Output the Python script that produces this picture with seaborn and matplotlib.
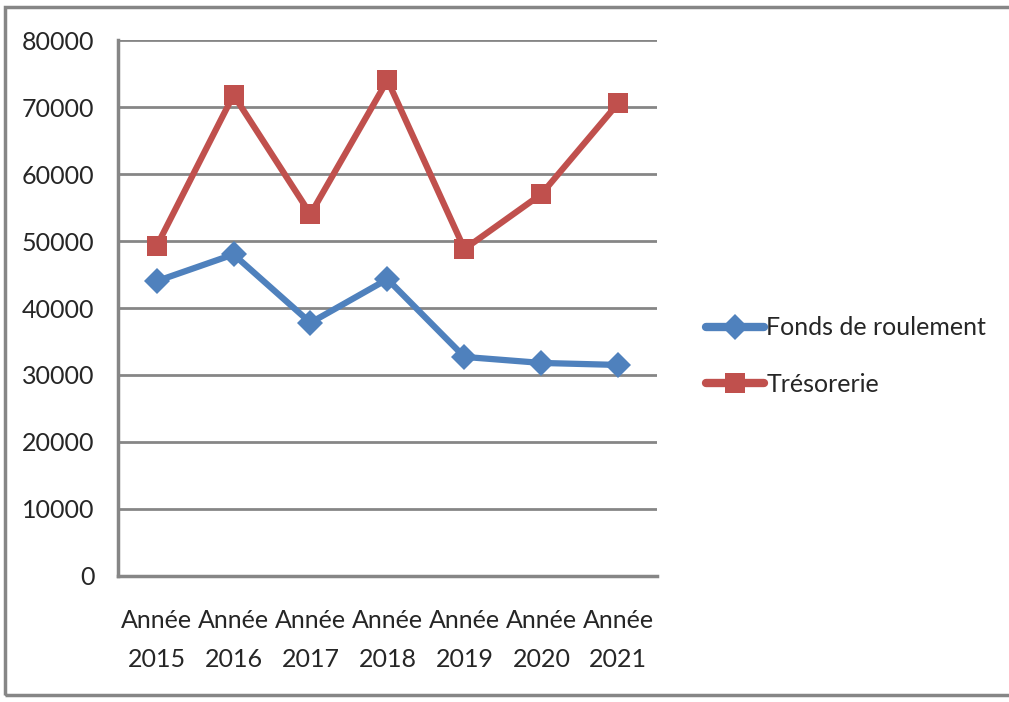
import pandas as pd
import numpy as np
import matplotlib.pyplot as plt
import seaborn as sns
from matplotlib.patches import Rectangle

# Données
annees = ["Année\n2015", "Année\n2016", "Année\n2017", "Année\n2018",
          "Année\n2019", "Année\n2020", "Année\n2021"]
fonds_roulement = [44000, 48000, 37800, 44300, 32700, 31800, 31500]
tresorerie = [49200, 71800, 54000, 74000, 48800, 57000, 70600]
y_ticks = [0, 10000, 20000, 30000, 40000, 50000, 60000, 70000, 80000]

df = pd.DataFrame({
    "annee": annees * 2,
    "valeur": fonds_roulement + tresorerie,
    "serie": ["Fonds de roulement"] * len(annees) + ["Trésorerie"] * len(annees),
})

sns.set_style("white")
plt.rcParams['font.family'] = ['Lato', 'DejaVu Sans']

fig = plt.figure(figsize=(10.09, 7.02), dpi=100)
ax = fig.add_axes([0.117, 0.1795, 0.534, 0.7635])

gris = "#868686"
palette = {"Fonds de roulement": "#4F81BD", "Trésorerie": "#C0504D"}
marqueurs = {"Fonds de roulement": "D", "Trésorerie": "s"}

sns.lineplot(data=df, x="annee", y="valeur", hue="serie", style="serie",
             palette=palette, markers=marqueurs, dashes=False, sort=False,
             linewidth=4.5, ax=ax)
for line in ax.lines:
    if line.get_marker() == "s":
        line.set_markersize(15)
    else:
        line.set_markersize(13)
    line.set_markeredgewidth(0)

ax.set_ylim(0, 80000)
ax.set_xlim(-0.5, 6.5)
ax.set_yticks(y_ticks)
ax.set_xticks(range(len(annees)))
ax.set_xticklabels(annees, fontsize=18, linespacing=1.8)
ax.set_xticks(np.arange(-0.5, 7, 1), minor=True)
ax.tick_params(axis="x", which="major", length=0, pad=24)
ax.tick_params(axis="x", which="minor", length=8, width=2, color=gris, direction="out")
ax.tick_params(axis="y", labelsize=18, length=9, width=2, color=gris, pad=8)
ax.set_xlabel("")
ax.set_ylabel("")

ax.yaxis.grid(True, color=gris, linewidth=2)
ax.set_axisbelow(True)
for s in ["top", "right"]:
    ax.spines[s].set_visible(False)
for s in ["left", "bottom"]:
    ax.spines[s].set_color(gris)
    ax.spines[s].set_linewidth(2.5)

leg = ax.legend(loc="center left", bbox_to_anchor=(1.05, 0.41), frameon=False,
                fontsize=18, handlelength=2.3, labelspacing=1.35, handletextpad=0.1)
for h in leg.legend_handles:
    h.set_linewidth(6)

# Cadre du graphique
fig.patches.append(Rectangle((0.005, 0.01), 1.2, 0.98, transform=fig.transFigure,
                             fill=False, edgecolor=gris, linewidth=2.5))

fig.savefig("out.png", dpi=100)
